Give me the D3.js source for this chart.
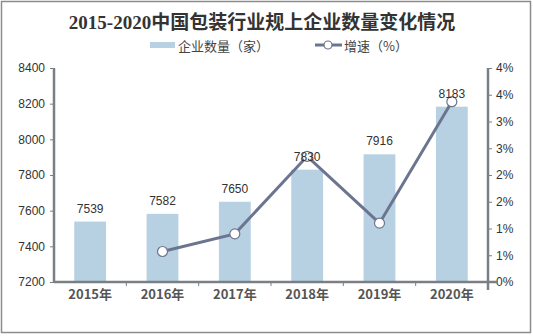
<!DOCTYPE html>
<html><head><meta charset="utf-8">
<script src="https://cdn.jsdelivr.net/npm/d3@7/dist/d3.min.js"></script>
<style>body{margin:0;background:#fff}svg{display:block}</style>
</head><body>
<svg id="c" width="533" height="336"></svg>
<script>
const categories = ["2015年","2016年","2017年","2018年","2019年","2020年"];
const counts = [7539, 7582, 7650, 7830, 7916, 8183];
const growth = [null, 0.57, 0.90, 2.35, 1.10, 3.37];
const leftTicks = [7200,7400,7600,7800,8000,8200,8400];
const rightTicks = [0,0.5,1,1.5,2,2.5,3,3.5,4];
const titleText = "2015-2020中国包装行业规上企业数量变化情况";
const legendBar = "企业数量（家）";
const legendLine = "增速（%）";

const svg = d3.select("#c");
const font = "'Liberation Sans','Noto Sans CJK SC',sans-serif";
svg.append("rect").attr("x",1.5).attr("y",1.5).attr("width",529).attr("height",331)
  .attr("fill","#fff").attr("stroke","#8c8c8c").attr("stroke-width",1.5);

const L=54, R=488, T=68, B=282;
const x = d3.scaleBand().domain(categories).range([L,R]).paddingInner(0.56).paddingOuter(0.28);
const xb = d3.scaleBand().domain(categories).range([L,R]);
const yL = d3.scaleLinear().domain([7200,8400]).range([B,T]);
const yR = d3.scaleLinear().domain([0,4]).range([B,T]);
const axisColor = "#7a7f85";

svg.append("text").attr("x",262).attr("y",29).attr("text-anchor","middle")
  .attr("font-family","'Liberation Serif','Noto Sans CJK SC',serif").attr("font-weight","bold").attr("font-size",19)
  .attr("fill","#333").text(titleText);

// legend
svg.append("rect").attr("x",150).attr("y",42).attr("width",25).attr("height",6).attr("fill","#b7d1e3");
svg.append("text").attr("x",178).attr("y",51).attr("font-family","'Noto Sans CJK SC',sans-serif").attr("font-size",13).attr("fill","#444").text(legendBar);
svg.append("line").attr("x1",315).attr("x2",342).attr("y1",45).attr("y2",45).attr("stroke","#6b7590").attr("stroke-width",3);
svg.append("circle").attr("cx",328).attr("cy",45).attr("r",4).attr("fill","#fff").attr("stroke","#6b7590").attr("stroke-width",1.2);
svg.append("text").attr("x",344).attr("y",51).attr("font-family","'Noto Sans CJK SC',sans-serif").attr("font-size",13).attr("fill","#444").text(legendLine);

// bars
svg.append("g").selectAll("rect").data(counts).join("rect")
  .attr("x",(d,i)=>x(categories[i])).attr("width",x.bandwidth())
  .attr("y",d=>yL(d)).attr("height",d=>B-yL(d)).attr("fill","#b7d1e3");

// axes
const gl = svg.append("g").attr("transform",`translate(${L},0)`)
  .call(d3.axisLeft(yL).tickValues(leftTicks).tickSize(4).tickPadding(5).tickFormat(d3.format("d")));
const gr = svg.append("g").attr("transform",`translate(${R},0)`)
  .call(d3.axisRight(yR).tickValues(rightTicks).tickSize(4).tickPadding(4).tickFormat(d=>Math.round(d+1e-9)+"%"));
const gx = svg.append("g").attr("transform",`translate(0,${B})`)
  .call(d3.axisBottom(xb).tickSize(0).tickPadding(8));
svg.append("g").selectAll("line").data(d3.range(1,categories.length)).join("line")
  .attr("x1",i=>L+xb.step()*i).attr("x2",i=>L+xb.step()*i).attr("y1",B).attr("y2",B+4)
  .attr("stroke",axisColor).attr("stroke-width",1);
[gl,gr,gx].forEach(g=>{
  g.select(".domain").attr("stroke",axisColor).attr("stroke-width",2.5);
  g.selectAll(".tick line").attr("stroke",axisColor);
  g.selectAll("text").attr("font-family",font).attr("font-size",12).attr("fill","#333");
});
gl.select(".domain").attr("d",`M0,${T}V${B}`);
gr.select(".domain").attr("d",`M0,${T}V${B+8}`);
gx.select(".domain").attr("d",`M${L},0H${R+10}`);
gx.selectAll("text").attr("font-family","'Noto Sans CJK SC',sans-serif").attr("font-weight","bold").attr("font-size",13).attr("fill","#555");

// line
const pts = growth.map((g,i)=>({g,i})).filter(d=>d.g!==null);
const line = d3.line().x(d=>xb(categories[d.i])+xb.bandwidth()/2).y(d=>yR(d.g));
svg.append("path").datum(pts).attr("d",line).attr("fill","none").attr("stroke","#6b7590").attr("stroke-width",3);
svg.append("g").selectAll("circle").data(pts).join("circle")
  .attr("cx",d=>xb(categories[d.i])+xb.bandwidth()/2).attr("cy",d=>yR(d.g)).attr("r",5)
  .attr("fill","#fff").attr("stroke","#6b7590").attr("stroke-width",1.2);

// data labels on top
svg.append("g").selectAll("text").data(counts).join("text")
  .attr("x",(d,i)=>x(categories[i])+x.bandwidth()/2).attr("y",d=>yL(d)-9)
  .attr("text-anchor","middle").attr("font-family",font).attr("font-size",12).attr("fill","#333").text(d=>d);
</script>
</body></html>
